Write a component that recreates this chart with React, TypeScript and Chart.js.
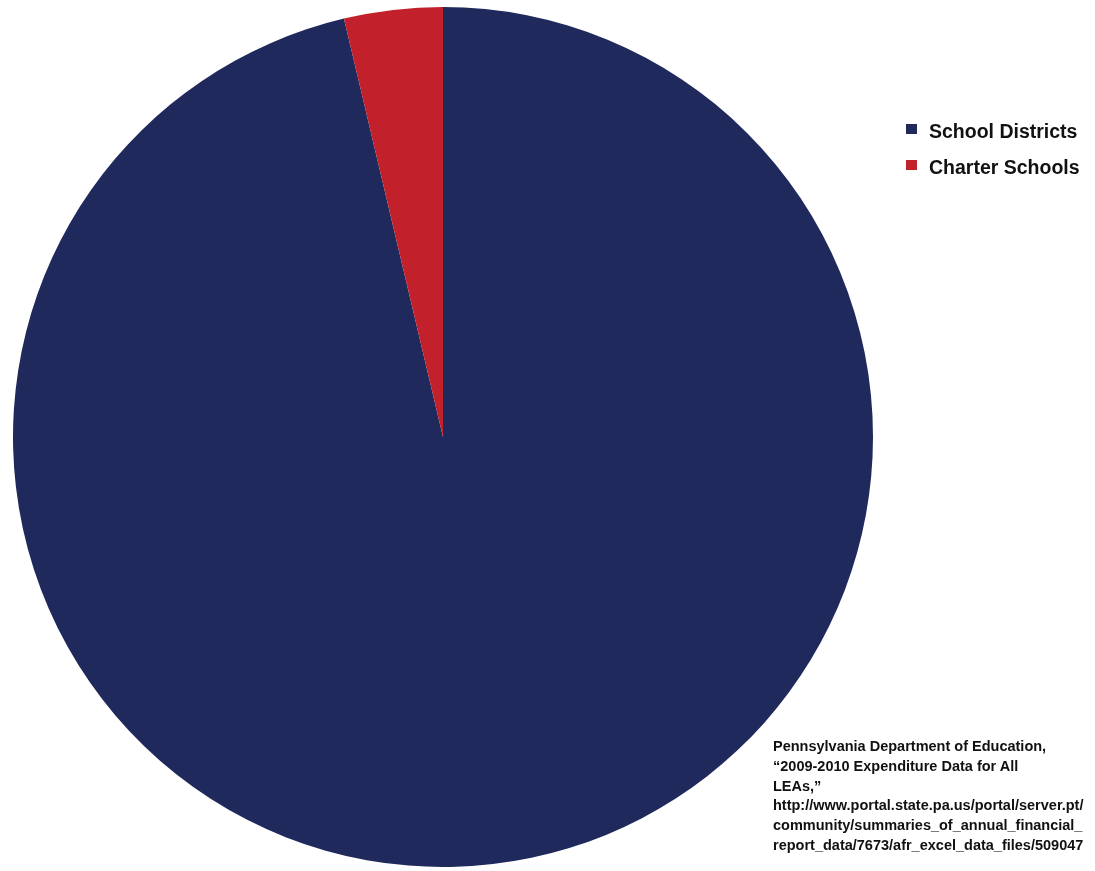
import React, { useEffect, useRef } from "react";
import { Chart, registerables } from "chart.js";

Chart.register(...registerables);

const categories: string[] = ["School Districts", "Charter Schools"];
const shares: number[] = [96.3, 3.7];
const colors: string[] = ["#1f295c", "#c2202a"];
const sourceLines: string[] = [
  "Pennsylvania Department of Education,",
  "\u201C2009-2010 Expenditure Data for All",
  "LEAs,\u201D",
  "http://www.portal.state.pa.us/portal/server.pt/",
  "community/summaries_of_annual_financial_",
  "report_data/7673/afr_excel_data_files/509047",
];

export default function App() {
  const canvasRef = useRef<HTMLCanvasElement | null>(null);

  useEffect(() => {
    if (!canvasRef.current) return;
    const chart = new Chart(canvasRef.current, {
      type: "pie",
      data: {
        labels: categories,
        datasets: [
          {
            data: shares,
            backgroundColor: colors,
            borderWidth: 0,
          },
        ],
      },
      options: {
        animation: false,
        responsive: false,
        maintainAspectRatio: false,
        layout: { padding: { left: 13, right: 222, top: 7, bottom: 4 } },
        plugins: {
          legend: { display: false },
          tooltip: { enabled: false },
        },
      },
    });
    return () => chart.destroy();
  }, []);

  const font = '"Liberation Sans", Arial, sans-serif';

  return (
    <div style={{ position: "absolute", left: 0, top: 0, width: 1095, height: 871, background: "#ffffff", overflow: "hidden" }}>
      <canvas ref={canvasRef} width={1095} height={871} style={{ position: "absolute", left: 0, top: 0, width: 1095, height: 871 }} />
      {categories.map((c, i) => (
        <div key={c} style={{ position: "absolute", left: 906, top: 120.5 + i * 36, height: 20, display: "flex", alignItems: "flex-start" }}>
          <div style={{ width: 11, height: 10, background: colors[i], marginTop: 3.5 }} />
          <div style={{ marginLeft: 12, fontFamily: font, fontWeight: "bold", fontSize: 19.5, lineHeight: "20px", color: "#111", whiteSpace: "nowrap" }}>{c}</div>
        </div>
      ))}
      <div style={{ position: "absolute", left: 773, top: 737, fontFamily: font, fontWeight: "bold", fontSize: 14.5, lineHeight: "19.8px", color: "#111", whiteSpace: "nowrap" }}>
        {sourceLines.map((l, i) => (
          <div key={i}>{l}</div>
        ))}
      </div>
    </div>
  );
}
